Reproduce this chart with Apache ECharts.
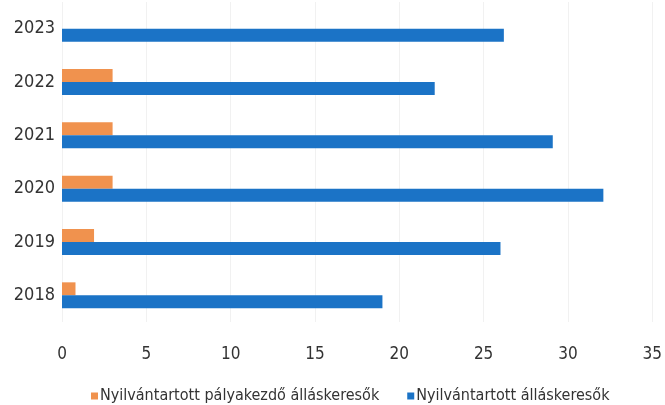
<!DOCTYPE html>
<html>
<head>
<meta charset="utf-8">
<script src="https://cdn.jsdelivr.net/npm/echarts@6/dist/echarts.min.js"></script>
<style>
  html, body { margin: 0; padding: 0; background: #fff; }
  #chart { width: 665px; height: 405px; }
</style>
</head>
<body>
<div id="chart"></div>
<script>
// years, bottom to top
const years = ['2018', '2019', '2020', '2021', '2022', '2023'];
const palyakezdo = [0.8, 1.9, 3.0, 3.0, 3.0, 0];
const allaskeresok = [19.0, 26.0, 32.1, 29.1, 22.1, 26.2];
const xTicks = [0, 5, 10, 15, 20, 25, 30, 35];

const font = '"DejaVu Sans Condensed", "Liberation Sans Narrow", sans-serif';

const chart = echarts.init(document.getElementById('chart'));
chart.setOption({
  backgroundColor: '#fff',
  animation: false,
  textStyle: { fontFamily: font },
  grid: { left: 62, right: 11, top: 2, bottom: 83 },
  legend: {
    top: 383,
    left: 86,
    itemWidth: 7,
    itemHeight: 7,
    itemGap: 28,
    icon: 'rect',
    textStyle: { fontFamily: font, fontSize: 16, color: '#333', padding: [0, 0, 0, -3] },
    data: ['Nyilvántartott pályakezdő álláskeresők', 'Nyilvántartott álláskeresők']
  },
  xAxis: {
    type: 'value',
    min: xTicks[0],
    max: xTicks[xTicks.length - 1],
    interval: 5,
    axisLine: { show: false },
    axisTick: { show: false },
    splitLine: { lineStyle: { color: '#f1f1f1' } },
    axisLabel: { margin: 24, fontSize: 17, color: '#333', fontFamily: font }
  },
  yAxis: {
    type: 'category',
    data: years,
    axisLine: { show: false },
    axisTick: { show: false },
    axisLabel: { margin: 7, fontSize: 18, color: '#333', fontFamily: font }
  },
  series: [
    {
      name: 'Nyilvántartott pályakezdő álláskeresők',
      type: 'bar',
      data: palyakezdo,
      barWidth: 13,
      barGap: '0%',
      itemStyle: { color: '#F0924E' }
    },
    {
      name: 'Nyilvántartott álláskeresők',
      type: 'bar',
      data: allaskeresok,
      barWidth: 13,
      itemStyle: { color: '#1B73C6' }
    }
  ]
});
</script>
</body>
</html>
